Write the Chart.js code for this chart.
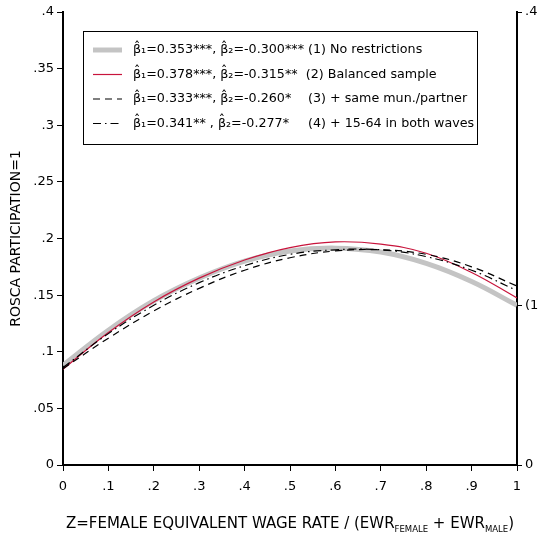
<!DOCTYPE html>
<html lang="en">
<head>
<meta charset="UTF-8">
<title>ROSCA participation</title>
<script src="https://cdn.jsdelivr.net/npm/chart.js"></script>
<style>
  body { margin: 0; background: #fff; }
  #wrap { width: 541px; height: 535px; }
</style>
</head>
<body>
<div id="wrap"><canvas id="chart"></canvas></div>
<script>
// data
const zValues = [0, 0.1, 0.2, 0.3, 0.4, 0.5, 0.6, 0.7, 0.8, 0.9, 1];
const noRestrictions = [0.088, 0.119, 0.145, 0.165, 0.180, 0.189, 0.1915, 0.188, 0.178, 0.162, 0.141];
const balancedSample = [0.0845, 0.117, 0.144, 0.165, 0.181, 0.192, 0.197, 0.195, 0.187, 0.170, 0.1475];
const sameMunPartner = [0.085, 0.112, 0.136, 0.156, 0.172, 0.183, 0.189, 0.190, 0.186, 0.175, 0.158];
const both1564 = [0.086, 0.116, 0.141, 0.161, 0.176, 0.186, 0.190, 0.190, 0.184, 0.172, 0.154];
const legendBetas = [
  'β̂₁=0.353***, β̂₂=-0.300***',
  'β̂₁=0.378***, β̂₂=-0.315**',
  'β̂₁=0.333***, β̂₂=-0.260*',
  'β̂₁=0.341** , β̂₂=-0.277*'
];
const legendModels = [
  '(1) No restrictions',
  '(2) Balanced sample',
  '(3) + same mun./partner',
  '(4) + 15-64 in both waves'
];
const yTickValues = [0, 0.05, 0.1, 0.15, 0.2, 0.25, 0.3, 0.35, 0.4];
const rightTickLabels = ['0', '(1', '.4'];

const FONT = 'DejaVu Sans, sans-serif';

function fmt(v) {
  if (Math.abs(v) < 1e-9) return '0';
  if (Math.abs(v - 1) < 1e-9) return '1';
  return String(Math.round(v * 100) / 100).replace(/^0/, '');
}

function toPoints(arr) {
  return arr.map((v, i) => ({ x: zValues[i], y: v }));
}

const styles = [
  { color: '#c4c4c4', width: 5, dash: [] },
  { color: '#c8143c', width: 1.2, dash: [] },
  { color: '#000', width: 1.2, dash: [7, 5] },
  { color: '#000', width: 1.2, dash: [8, 4, 1.5, 4] }
];

const legendPlugin = {
  id: 'boxLegend',
  afterDatasetsDraw(chart) {
    const ctx = chart.ctx;
    ctx.save();
    ctx.fillStyle = '#fff';
    ctx.fillRect(83, 31, 395, 114);
    ctx.strokeStyle = '#000';
    ctx.lineWidth = 1;
    ctx.strokeRect(83.5, 31.5, 394, 113);
    ctx.font = '12.7px ' + FONT;
    ctx.textBaseline = 'middle';
    const sp = ctx.measureText(' ').width;
    // model labels of rows 1, 3, 4 line up after the longest beta text
    const alignedX = 133 + ctx.measureText(legendBetas[0]).width + sp;
    legendBetas.forEach((t, i) => {
      const y = 50 + i * 24.5;
      const s = styles[i];
      ctx.strokeStyle = s.color;
      ctx.lineWidth = s.width;
      ctx.setLineDash(s.dash);
      ctx.beginPath();
      ctx.moveTo(93, y);
      ctx.lineTo(122, y);
      ctx.stroke();
      ctx.setLineDash([]);
      ctx.fillStyle = '#000';
      ctx.fillText(t, 133, y);
      const mx = i === 1 ? 133 + ctx.measureText(t).width + 2 * sp : alignedX;
      ctx.fillText(legendModels[i], mx, y);
    });
    ctx.restore();
  },
  afterDraw(chart) {
    // x axis title with subscripts
    const ctx = chart.ctx;
    ctx.save();
    ctx.fillStyle = '#000';
    ctx.textBaseline = 'alphabetic';
    const parts = [
      ['Z=FEMALE EQUIVALENT WAGE RATE / (EWR', 15, 0],
      ['FEMALE', 8.5, 4],
      [' + EWR', 15, 0],
      ['MALE', 8.5, 4],
      [')', 15, 0]
    ];
    let total = 0;
    parts.forEach(p => { ctx.font = p[1] + 'px ' + FONT; total += ctx.measureText(p[0]).width; });
    let x = (chart.chartArea.left + chart.chartArea.right) / 2 - total / 2;
    const base = 528;
    parts.forEach(p => {
      ctx.font = p[1] + 'px ' + FONT;
      ctx.fillText(p[0], x, base + p[2]);
      x += ctx.measureText(p[0]).width;
    });
    ctx.restore();
  }
};

new Chart(document.getElementById('chart'), {
  type: 'line',
  data: {
    datasets: [noRestrictions, balancedSample, sameMunPartner, both1564].map((d, i) => ({
      data: toPoints(d),
      borderColor: styles[i].color,
      borderWidth: styles[i].width,
      borderDash: styles[i].dash,
      pointRadius: 0,
      tension: 0.4,
      fill: false,
      order: i === 0 ? 5 : 4 - i
    }))
  },
  options: {
    responsive: true,
    maintainAspectRatio: false,
    animation: false,
    layout: { padding: { top: 12, left: 0, right: 0, bottom: 0 } },
    plugins: { legend: { display: false }, tooltip: { enabled: false } },
    scales: {
      x: {
        type: 'linear', min: 0, max: 1,
        afterBuildTicks: s => { s.ticks = zValues.map(v => ({ value: v })); },
        afterFit: s => { s.height = 70; },
        grid: { drawOnChartArea: false, tickLength: 6, tickColor: '#000', tickWidth: 1 },
        border: { color: '#000', width: 2 },
        ticks: { color: '#000', font: { family: FONT, size: 13 }, padding: 8, maxRotation: 0, callback: v => fmt(v) }
      },
      y: {
        min: 0, max: 0.4,
        afterBuildTicks: s => { s.ticks = yTickValues.map(v => ({ value: v })); },
        afterFit: s => { s.width = 63; },
        grid: { drawOnChartArea: false, tickLength: 6, tickColor: '#000', tickWidth: 1 },
        border: { color: '#000', width: 2 },
        title: { display: true, text: 'ROSCA PARTICIPATION=1', color: '#000', font: { family: FONT, size: 14 }, padding: { top: 8, bottom: 0 } },
        ticks: { color: '#000', font: { family: FONT, size: 13 }, padding: 3, callback: v => fmt(v) }
      },
      y2: {
        position: 'right', min: 0, max: 0.4,
        afterBuildTicks: s => { s.ticks = [0, noRestrictions[noRestrictions.length - 1], 0.4].map(v => ({ value: v })); },
        afterFit: s => { s.width = 24; },
        grid: { drawOnChartArea: false, tickLength: 5, tickColor: '#000', tickWidth: 1 },
        border: { color: '#000', width: 2 },
        ticks: { color: '#000', font: { family: FONT, size: 13 }, padding: 3, callback: (v, i) => rightTickLabels[i] }
      }
    }
  },
  plugins: [legendPlugin]
});
</script>
</body>
</html>
